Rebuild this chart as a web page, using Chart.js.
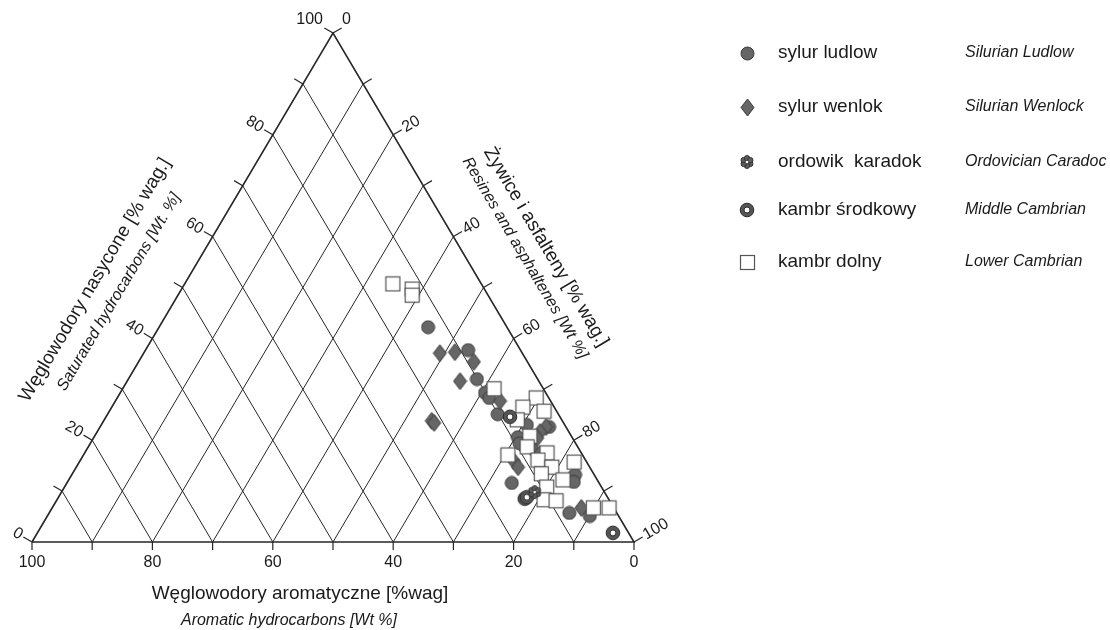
<!DOCTYPE html>
<html>
<head>
<meta charset="utf-8">
<script src="https://cdn.jsdelivr.net/npm/chart.js@4.4.1/dist/chart.umd.min.js"></script>
<style>
  html, body { margin: 0; padding: 0; background: #fff; }
  #wrap { width: 1110px; height: 630px; }
</style>
</head>
<body>
<div id="wrap"><canvas id="ternary" width="1110" height="630"></canvas></div>
<script>
// sample composition in wt %: saturated / aromatic / resins+asphaltenes
var ludlowSat = [42.2, 37.7, 32.0, 29.3, 28.3, 25.1, 23.0, 22.6, 20.6, 19.4, 13.2, 11.8, 11.6, 5.7, 5.1];
var ludlowAro = [13.1, 8.7, 10.1, 10.1, 9.9, 10.1, 6.3, 2.8, 9.0, 9.3, 3.2, 4.1, 14.5, 7.9, 4.8];
var ludlowRes = [44.7, 53.6, 57.9, 60.6, 61.8, 64.8, 70.7, 74.6, 70.4, 71.3, 83.6, 84.1, 73.9, 86.4, 90.1];

var wenlokSat = [37.1, 37.3, 35.4, 31.6, 23.8, 23.4, 27.7, 22.6, 21.6, 20.4, 18.1, 17.3, 15.9, 14.7, 6.7];
var wenlokAro = [13.7, 11.1, 8.9, 13.1, 21.7, 21.5, 8.4, 3.3, 4.8, 5.9, 7.7, 7.0, 12.0, 11.9, 5.4];
var wenlokRes = [49.2, 51.6, 55.7, 55.3, 54.5, 55.1, 63.9, 74.1, 73.6, 73.7, 74.2, 75.7, 72.1, 73.4, 87.9];

var caradocSat = [9.8];
var caradocAro = [11.6];
var caradocRes = [78.6];

var midCambSat = [24.6, 8.5, 8.8, 1.8];
var midCambAro = [8.3, 13.9, 13.4, 2.6];
var midCambRes = [67.1, 77.6, 77.8, 95.6];

var lowCambSat = [50.7, 49.7, 48.5, 30.1, 28.3, 26.5, 25.7, 24.0, 20.8, 18.7, 17.1, 17.5, 16.1, 14.7, 15.7, 12.2, 13.4, 10.8, 8.3, 8.1, 6.7, 6.7];
var lowCambAro = [14.7, 12.0, 12.6, 8.2, 2.1, 5.2, 2.1, 7.4, 6.9, 8.4, 12.4, 5.7, 7.9, 6.3, 2.1, 5.7, 8.7, 9.1, 10.8, 8.9, 3.4, 0.8];
var lowCambRes = [34.6, 38.3, 38.9, 61.7, 69.6, 68.3, 72.2, 68.6, 72.3, 72.9, 70.5, 76.8, 76.0, 79.0, 82.2, 82.1, 77.9, 80.1, 80.9, 83.0, 89.9, 92.5];

var gridSteps = [10, 20, 30, 40, 50, 60, 70, 80, 90];
var tickSteps = [0, 10, 20, 30, 40, 50, 60, 70, 80, 90, 100];
var aroLabels = [100, 80, 60, 40, 20, 0];
var satLabels = [0, 20, 40, 60, 80];
var resLabels = [20, 40, 60, 80, 100];

var namesPl = ['sylur ludlow', 'sylur wenlok', 'ordowik  karadok', 'kambr \u015brodkowy', 'kambr dolny'];
var namesEn = ['Silurian Ludlow', 'Silurian Wenlock', 'Ordovician Caradoc', 'Middle Cambrian', 'Lower Cambrian'];

var FONT = "'Liberation Sans', Arial, sans-serif";
var INK = '#262626';

// ternary -> plane: x = res + sat/2, y = sat
function toXY(sat, res) {
  return sat.map(function (s, i) { return { x: res[i] + s / 2, y: s }; });
}

function makeIcon(w, h, draw) {
  var c = document.createElement('canvas');
  c.width = w; c.height = h;
  draw(c.getContext('2d'), w, h);
  return c;
}
var iconCircle = makeIcon(15, 15, function (g) {
  g.beginPath(); g.arc(7.5, 7.5, 6.5, 0, Math.PI * 2);
  g.fillStyle = '#666'; g.fill();
  g.strokeStyle = '#3a3a3a'; g.lineWidth = 1; g.stroke();
});
var iconDiamond = makeIcon(15, 19, function (g) {
  g.beginPath(); g.moveTo(7.5, 1); g.lineTo(14, 9.5); g.lineTo(7.5, 18); g.lineTo(1, 9.5); g.closePath();
  g.fillStyle = '#666'; g.fill();
  g.strokeStyle = '#3a3a3a'; g.lineWidth = 1; g.stroke();
});
var iconSquare = makeIcon(17, 17, function (g) {
  g.fillStyle = '#fff'; g.fillRect(1.5, 1.5, 14, 14);
  g.strokeStyle = '#555'; g.lineWidth = 1.2; g.strokeRect(1.5, 1.5, 14, 14);
});
var iconRing = makeIcon(16, 16, function (g) {
  g.beginPath(); g.arc(8, 8, 6.8, 0, Math.PI * 2);
  g.fillStyle = '#555'; g.fill();
  g.strokeStyle = '#2a2a2a'; g.lineWidth = 1; g.stroke();
  g.beginPath(); g.arc(8, 8, 3, 0, Math.PI * 2);
  g.fillStyle = '#fff'; g.fill(); g.stroke();
});
var iconFlower = makeIcon(16, 16, function (g) {
  g.fillStyle = '#5e5e5e'; g.strokeStyle = '#2e2e2e'; g.lineWidth = 0.9;
  for (var k = 0; k < 6; k++) {
    var a = k * Math.PI / 3 + Math.PI / 6;
    g.beginPath(); g.arc(8 + 3.8 * Math.cos(a), 8 + 3.8 * Math.sin(a), 2.7, 0, Math.PI * 2);
    g.fill(); g.stroke();
  }
  g.beginPath(); g.arc(8, 8, 1.3, 0, Math.PI * 2); g.fillStyle = '#fff'; g.fill();
});
var legendIcons = [iconCircle, iconDiamond, iconFlower, iconRing, iconSquare];

function lineSet(points, width, order) {
  return {
    type: 'line', data: points, borderColor: INK, borderWidth: width,
    pointRadius: 0, fill: false, tension: 0, order: order
  };
}

var datasets = [];
// grid: constant aromatic lines and constant resin lines
gridSteps.forEach(function (k) {
  datasets.push(lineSet(toXY([0, 100 - k], [100 - k, 0]), 1, 20));
  datasets.push(lineSet(toXY([0, 100 - k], [k, k]), 1, 20));
});
// triangle frame
datasets.push(lineSet(toXY([0, 100, 0, 0], [0, 0, 100, 0]), 1.6, 19));

function pointSet(label, sat, res, icon, order) {
  return {
    type: 'scatter', label: label, data: toXY(sat, res),
    pointStyle: icon, pointRadius: 7, order: order
  };
}
datasets.push(pointSet(namesPl[0], ludlowSat, ludlowRes, iconCircle, 5));
datasets.push(pointSet(namesPl[1], wenlokSat, wenlokRes, iconDiamond, 4));
datasets.push(pointSet(namesPl[4], lowCambSat, lowCambRes, iconSquare, 3));
datasets.push(pointSet(namesPl[3], midCambSat, midCambRes, iconRing, 2));
datasets.push(pointSet(namesPl[2], caradocSat, caradocRes, iconFlower, 1));

var ternaryDecor = {
  id: 'ternaryDecor',
  afterDatasetsDraw: function (chart) {
    var ctx = chart.ctx, xs = chart.scales.x, ys = chart.scales.y;
    function P(s, r) { return [xs.getPixelForValue(r + s / 2), ys.getPixelForValue(s)]; }
    var BL = P(0, 0), BR = P(0, 100), T = P(100, 0);
    function unit(a, b) { var dx = b[0] - a[0], dy = b[1] - a[1], l = Math.hypot(dx, dy); return [dx / l, dy / l]; }
    var dL = unit(BL, T), dR = unit(T, BR);
    var nL = [dL[1], -dL[0]], nR = [dR[1], -dR[0]];

    ctx.save();
    ctx.strokeStyle = INK; ctx.lineWidth = 1.2;
    tickSteps.forEach(function (v) {
      var b = P(0, 100 - v);
      ctx.beginPath(); ctx.moveTo(b[0], b[1]); ctx.lineTo(b[0], b[1] + 8); ctx.stroke();
      var l = P(v, 0);
      ctx.beginPath(); ctx.moveTo(l[0], l[1]); ctx.lineTo(l[0] + nL[0] * 10, l[1] + nL[1] * 10); ctx.stroke();
      var r = P(100 - v, v);
      ctx.beginPath(); ctx.moveTo(r[0], r[1]); ctx.lineTo(r[0] + nR[0] * 10, r[1] + nR[1] * 10); ctx.stroke();
    });

    ctx.fillStyle = '#1a1a1a';
    ctx.font = '16px ' + FONT;
    ctx.textAlign = 'center'; ctx.textBaseline = 'middle';
    aroLabels.forEach(function (v) {
      var b = P(0, 100 - v);
      ctx.fillText(String(v), b[0], b[1] + 21);
    });
    var angL = Math.atan2(-nL[1], -nL[0]), angR = Math.atan2(nR[1], nR[0]);
    satLabels.forEach(function (v) {
      var p = P(v, 0);
      ctx.save();
      ctx.translate(p[0] + nL[0] * 12, p[1] + nL[1] * 12);
      ctx.rotate(angL); ctx.textAlign = 'right';
      ctx.fillText(String(v), 0, 0);
      ctx.restore();
    });
    resLabels.forEach(function (v) {
      var p = P(100 - v, v);
      ctx.save();
      ctx.translate(p[0] + nR[0] * 12, p[1] + nR[1] * 12);
      ctx.rotate(angR); ctx.textAlign = 'left';
      ctx.fillText(String(v), 0, 0);
      ctx.restore();
    });
    ctx.textAlign = 'right'; ctx.fillText('100', T[0] - 10, T[1] - 13);
    ctx.textAlign = 'left'; ctx.fillText('0', T[0] + 9, T[1] - 13);

    function rotText(txt, font, x, y, ang) {
      ctx.save(); ctx.font = font; ctx.translate(x, y); ctx.rotate(ang);
      ctx.textAlign = 'center'; ctx.textBaseline = 'middle';
      ctx.fillText(txt, 0, 0); ctx.restore();
    }
    var sideL = Math.atan2(dL[1], dL[0]), sideR = Math.atan2(dR[1], dR[0]);
    rotText('W\u0119glowodory aromatyczne [%wag]', '19px ' + FONT, 300, 594, 0);
    rotText('Aromatic hydrocarbons [Wt %]', 'italic 16px ' + FONT, 289, 621, 0);
    rotText('W\u0119glowodory nasycone [% wag.]', '19px ' + FONT, 95, 280, sideL);
    rotText('Saturated hydrocarbons [Wt. %]', 'italic 16px ' + FONT, 119, 292, sideL);
    rotText('\u017bywice i asfalteny [% wag.]', '19px ' + FONT, 546, 247, sideR);
    rotText('Resines and asphaltenes [Wt %]', 'italic 16px ' + FONT, 525, 258, sideR);

    // legend
    var rowsY = [53, 107, 162, 210, 262];
    rowsY.forEach(function (y, i) {
      var ic = legendIcons[i];
      ctx.drawImage(ic, Math.round(747 - ic.width / 2), Math.round(y - ic.height / 2));
      ctx.textAlign = 'left'; ctx.textBaseline = 'middle';
      ctx.font = '19px ' + FONT; ctx.fillText(namesPl[i], 778, y);
      ctx.font = 'italic 16px ' + FONT; ctx.fillText(namesEn[i], 965, y);
    });
    ctx.restore();
  }
};

new Chart(document.getElementById('ternary'), {
  type: 'scatter',
  data: { datasets: datasets },
  options: {
    responsive: false,
    animation: false,
    layout: { padding: 0, autoPadding: false },
    plugins: { legend: { display: false }, tooltip: { enabled: false } },
    scales: {
      x: { type: 'linear', display: false, min: -32 / 6.02, max: (1110 - 32) / 6.02 },
      y: { type: 'linear', display: false, min: -(630 - 542) / 5.09, max: 542 / 5.09 }
    }
  },
  plugins: [ternaryDecor]
});
</script>
</body>
</html>
